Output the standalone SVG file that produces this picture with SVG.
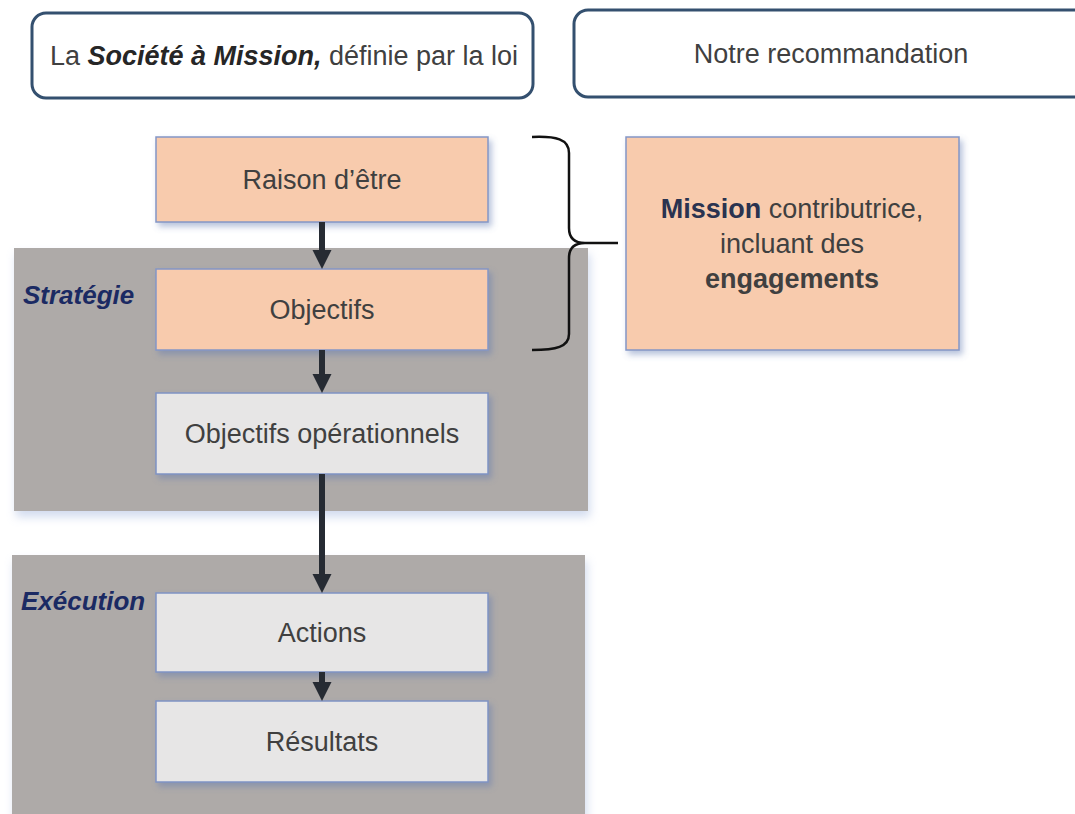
<svg xmlns="http://www.w3.org/2000/svg" width="1075" height="814" viewBox="0 0 1075 814">
<defs>
<style>
.t{font-family:"Liberation Sans",Arial,sans-serif;font-size:27px;fill:#404040;text-anchor:middle}
.lbl{font-family:"Liberation Sans",Arial,sans-serif;font-size:26px;font-weight:bold;font-style:italic;fill:#1b2a63}
.hdr{fill:#ffffff;stroke:#34506f;stroke-width:3}
.peach{fill:#f8cbad;stroke:#8496c6;stroke-width:1.5}
.lite{fill:#e7e6e6;stroke:#7f93c4;stroke-width:1.5}
.panel{fill:#aeaaa8}
.arr{stroke:#262b33;stroke-width:6;fill:none}
</style>
<filter id="sh" x="-10%" y="-10%" width="125%" height="130%">
<feDropShadow dx="3" dy="4" stdDeviation="3" flood-color="#5f77b0" flood-opacity="0.45"/>
</filter>
<filter id="psh" x="-5%" y="-5%" width="115%" height="120%">
<feDropShadow dx="2" dy="6" stdDeviation="5" flood-color="#9bb0dc" flood-opacity="0.45"/>
</filter>
<marker id="ah" markerUnits="userSpaceOnUse" markerWidth="20" markerHeight="20" refX="1" refY="9.5" orient="auto">
<path d="M0,0 L19,9.5 L0,19 z" fill="#262b33"/>
</marker>
</defs>
<rect width="1075" height="814" fill="#ffffff"/>

<g id="panel-strategie">
<rect class="panel" x="14" y="248" width="574" height="263" filter="url(#psh)"/>
<text class="lbl" x="23" y="304">Stratégie</text>
</g>
<g id="panel-execution">
<rect class="panel" x="12" y="555" width="573" height="270" filter="url(#psh)"/>
<text class="lbl" x="21" y="610">Exécution</text>
</g>

<g id="hdr-loi">
<rect class="hdr" x="32" y="13" width="501" height="85" rx="14"/>
<text class="t" x="284" y="65" font-size="26.5">La <tspan font-weight="bold" font-style="italic" fill="#262626">Société à Mission,</tspan> définie par la loi</text>
</g>
<g id="hdr-reco">
<rect class="hdr" x="574" y="10" width="530" height="87" rx="14"/>
<text class="t" x="831" y="63">Notre recommandation</text>
</g>

<g id="raison">
<rect class="peach" x="156" y="137" width="332" height="85" filter="url(#sh)"/>
<text class="t" x="322" y="189">Raison d’être</text>
</g>
<g id="objectifs">
<rect class="peach" x="156" y="269" width="332" height="81" filter="url(#sh)"/>
<text class="t" x="322" y="319">Objectifs</text>
</g>
<g id="objop">
<rect class="lite" x="156" y="393" width="332" height="81" filter="url(#sh)"/>
<text class="t" x="322" y="443">Objectifs opérationnels</text>
</g>
<g id="actions">
<rect class="lite" x="156" y="593" width="332" height="79" filter="url(#sh)"/>
<text class="t" x="322" y="642">Actions</text>
</g>
<g id="resultats">
<rect class="lite" x="156" y="701" width="332" height="81" filter="url(#sh)"/>
<text class="t" x="322" y="751">Résultats</text>
</g>
<g id="mission">
<rect class="peach" x="626" y="137" width="333" height="213" filter="url(#sh)"/>
<text class="t" x="792" y="218"><tspan font-weight="bold" fill="#2a3350">Mission</tspan> contributrice,</text>
<text class="t" x="792" y="253">incluant des</text>
<text class="t" x="792" y="288" font-weight="bold" fill="#2a3350">engagements</text>
</g>

<g id="connectors">
<line class="arr" x1="322" y1="222" x2="322" y2="251" marker-end="url(#ah)"/>
<line class="arr" x1="322" y1="350" x2="322" y2="375" marker-end="url(#ah)"/>
<line class="arr" x1="322" y1="474" x2="322" y2="575" marker-end="url(#ah)"/>
<line class="arr" x1="322" y1="672" x2="322" y2="683" marker-end="url(#ah)"/>
<path d="M532,137 C556,136 569,139 569,153 L569,228 C569,238 574,243 585,243 L618,243 M585,243 C574,243 569,248 569,258 L569,334 C569,347 556,350 532,350" fill="none" stroke="#111111" stroke-width="2.5"/>
</g>
</svg>
